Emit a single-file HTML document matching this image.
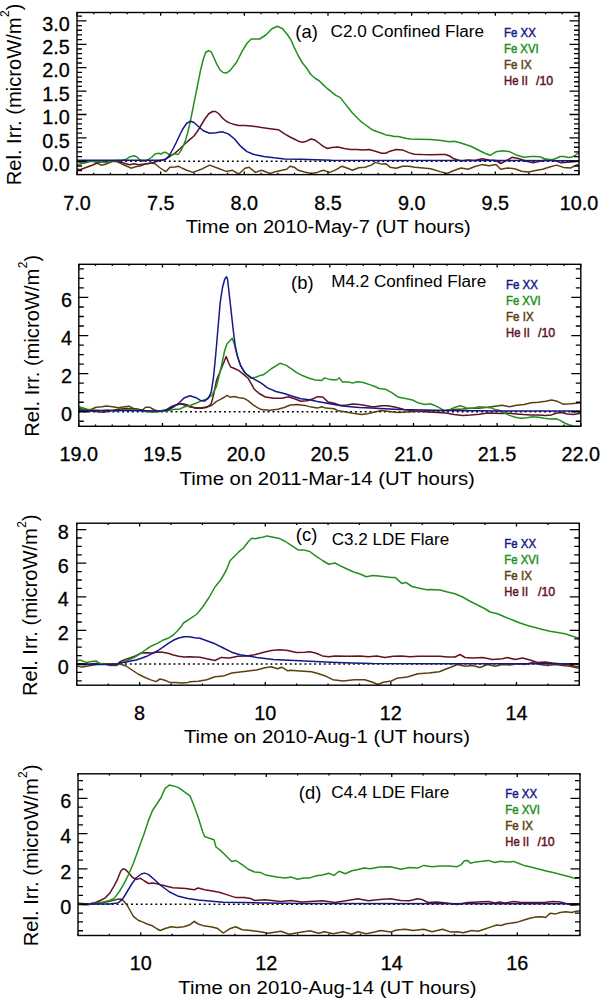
<!DOCTYPE html>
<html><head><meta charset="utf-8"><style>
html,body{margin:0;padding:0;background:#fff;}
svg{display:block;}
text{font-family:"Liberation Sans",sans-serif;fill:#000;}
.tl{font-size:19.8px;stroke:#000;stroke-width:0.3px;}
.xt{font-size:18.8px;}
.yt{font-size:19.8px;}
.ys{font-size:12px;}
.ti{font-size:16px;}
.tlb{font-size:19px;}
.lg{font-size:12.3px;stroke-width:0.45px;}
</style></head><body>
<svg width="600" height="1000" viewBox="0 0 600 1000">
<rect width="600" height="1000" fill="#fff"/>
<clipPath id="clipa"><rect x="77" y="12.5" width="502" height="162.1"/></clipPath>
<line x1="77" y1="161.3" x2="579" y2="161.3" stroke="#000" stroke-width="1.6" stroke-dasharray="1.9 2.95" stroke-dashoffset="0.3"/>
<g clip-path="url(#clipa)" fill="none" stroke-width="1.5" stroke-linejoin="round" stroke-linecap="round">
<polyline stroke="#5a400e" points="77,161.5 81.5,163 86,162.7 90.5,160.7 95,161.8 101,165.2 105.5,164.2 109.2,162.7 113,161.2 117.5,161.8 122,164.2 126.5,166 131,168.2 135.5,166.7 140,166 146,163.7 152,163 155,163.7 159.5,167.5 164,170.5 166,171.5 170,167.2 175,167 178.3,166.2 181,167.6 186.7,170.3 193,172.4 201.25,169.3 209.6,165.1 218,168.25 226.25,171.4 232.5,170.3 238.75,174 245,168.25 249.2,167.2 255.4,172.4 261.7,170.3 270,173.5 276.25,171.4 286.7,169.3 290,166.2 294.2,167.2 298.3,170.3 304.6,172 310.8,173.5 317,172.4 323.3,170.3 329.6,172.4 335.8,169.9 342,166.2 346.25,167.8 352.5,170.3 358.75,167.8 365,167.2 371.25,165.1 375.4,162.4 381.7,164.1 385.8,163.7 390,167.2 396.25,168.25 402.5,166.2 408.75,166.2 415,167.2 420.4,167.7 430.8,168.75 440,171.6 447,173.5 454,170.5 461,168 468,169.3 475,166.5 482,164.6 489,165.8 496,164.6 500.6,169.3 507.6,168 514.6,168.8 521.6,171.2 528.6,172.1 535.6,170.5 542.6,169.3 549.6,167 556.5,165.1 563.5,167.4 570.5,168 577.5,164.6"/>
<polyline stroke="#621322" points="77,169 80,169.7 86,167.5 92,165.2 98,162.7 104,161.2 111.5,160.7 117.5,161.2 123.5,163 129.5,164.8 134,163.7 138.5,164.8 143,164.2 147.5,163.7 152,163 156.5,161.5 160,160.5 165,159.4 170,156.25 175,153.1 180,148.75 185,143.75 190,139.4 193.75,136.25 197.5,131.25 201.25,125 205,118.75 208.75,113.75 212.5,111.5 215.6,111.5 218.75,113.75 222.5,118.1 226.25,121.25 230,123.1 232.5,123.9 238.75,125.5 245,125.5 253.3,126.2 261.7,127.6 270,128.7 278.3,129.7 284.6,133.9 290,137 294.2,139 298.3,141.2 302.5,142.2 306.7,141.2 310.8,139 315,140.1 319.2,143.25 323.3,146.4 327.5,148.5 331.7,147.4 337.9,147 344.2,148.5 350.4,149.5 356.7,149.5 362.9,149.9 369.2,149.5 375.4,151.2 381.7,153.25 385.8,153.25 390,151.2 396.25,149.5 402.5,149.9 408.75,152.6 414.2,154.2 422.5,154.6 430.8,154.8 440,154.4 445.4,154.5 449.6,156 454,158.8 461,161 468,160 475,160.5 482,158.8 489,160 496,160.5 500.6,163.5 507.6,160 512.3,157.2 519.3,158.8 526.2,161.2 533.2,162.8 540.2,161.2 547.2,159.5 554.2,160.5 561.2,162.8 570.5,161.9 578.7,161.2"/>
<polyline stroke="#229020" points="77,164.5 80,164.2 86,162.2 92,161.2 99.5,161.5 107,162.7 111.5,160.7 122,160.3 126.5,159.2 129.5,157 134,155.8 137,157 140,160 143,161.2 147.5,160 152,157 155,154 158.7,153.2 161,154 164,152.2 166.25,152.5 168.75,154.4 171.25,155 175,153.75 178.1,154.4 180.6,151.25 183.1,146.25 185.6,140 188.1,131.25 190.6,120 193.1,107.5 195.6,95 198.1,82.5 200.6,70 203.1,60 205.6,52.5 208.75,50.6 211.25,51.9 213.75,57.5 216.9,64.4 220,70 223.1,72.5 226.25,73.1 230,70.6 236.7,62 241.9,51.6 247,43.25 251.25,39 259.6,39 265.8,35 272,28.7 277.3,26.2 282.5,28.7 287.7,35 291,40 294.2,47.4 298.3,55.75 302.5,63 306.7,68.25 310.8,74.5 315,78.25 319.2,80.75 323.3,84.9 327.5,88.7 331.7,92.2 335.8,95.3 340,97.4 344.2,102.6 348.3,107.8 352.5,113 356.7,117.2 360.8,121.4 365,124.5 369.2,127.6 373.3,130.3 377.5,131.8 381.7,133.25 385.8,134.9 390,135.5 394.2,136.6 398.3,136.6 402.5,137.4 406.7,138.5 410.8,139 418.3,139.2 430.8,139.6 441.25,140.6 449.6,141.7 453.75,141.25 460,142.7 466.25,144.8 470.3,146 477.3,149.5 484.3,153 490,155.3 496,151.8 503,150.7 510,151.8 517,155.3 524,157.2 531,156.5 536,156.5 540,156.8 544,158.5 548,159.5 553,159.5 557,158 560,156.5 564,156.5 568,157.5 572,157 575,155.5 578,153 580,152"/>
<polyline stroke="#14188a" points="77,160.3 160,160.3 163,160 166,159 169,156 173,149 176.5,142 179.5,135.5 182.5,129.5 186.5,123.5 190.5,121.2 194,122.5 197,125.3 203.3,130.75 209.6,133.25 215.8,132.8 222,131.8 228.3,133.9 234.6,139 240.8,146.4 247,151.6 253.3,154.3 263.75,156.4 274,157.8 284.6,158.9 300,159.3 331.7,160.2 579,160.7"/>
</g>
<path d="M77 174.6v-3.2M77 12.5v3.2M93.73 174.6v-1.8M93.73 12.5v1.8M110.47 174.6v-1.8M110.47 12.5v1.8M127.2 174.6v-1.8M127.2 12.5v1.8M143.93 174.6v-1.8M143.93 12.5v1.8M160.67 174.6v-3.2M160.67 12.5v3.2M177.4 174.6v-1.8M177.4 12.5v1.8M194.13 174.6v-1.8M194.13 12.5v1.8M210.87 174.6v-1.8M210.87 12.5v1.8M227.6 174.6v-1.8M227.6 12.5v1.8M244.33 174.6v-3.2M244.33 12.5v3.2M261.07 174.6v-1.8M261.07 12.5v1.8M277.8 174.6v-1.8M277.8 12.5v1.8M294.53 174.6v-1.8M294.53 12.5v1.8M311.27 174.6v-1.8M311.27 12.5v1.8M328 174.6v-3.2M328 12.5v3.2M344.73 174.6v-1.8M344.73 12.5v1.8M361.47 174.6v-1.8M361.47 12.5v1.8M378.2 174.6v-1.8M378.2 12.5v1.8M394.93 174.6v-1.8M394.93 12.5v1.8M411.67 174.6v-3.2M411.67 12.5v3.2M428.4 174.6v-1.8M428.4 12.5v1.8M445.13 174.6v-1.8M445.13 12.5v1.8M461.87 174.6v-1.8M461.87 12.5v1.8M478.6 174.6v-1.8M478.6 12.5v1.8M495.33 174.6v-3.2M495.33 12.5v3.2M512.07 174.6v-1.8M512.07 12.5v1.8M528.8 174.6v-1.8M528.8 12.5v1.8M545.53 174.6v-1.8M545.53 12.5v1.8M562.27 174.6v-1.8M562.27 12.5v1.8M579 174.6v-3.2M579 12.5v3.2M77 170.66h5M579 170.66h-5M77 165.98h5M579 165.98h-5M77 161.3h9.5M579 161.3h-9.5M77 156.62h5M579 156.62h-5M77 151.94h5M579 151.94h-5M77 147.26h5M579 147.26h-5M77 142.58h5M579 142.58h-5M77 137.9h9.5M579 137.9h-9.5M77 133.22h5M579 133.22h-5M77 128.54h5M579 128.54h-5M77 123.86h5M579 123.86h-5M77 119.18h5M579 119.18h-5M77 114.5h9.5M579 114.5h-9.5M77 109.82h5M579 109.82h-5M77 105.14h5M579 105.14h-5M77 100.46h5M579 100.46h-5M77 95.78h5M579 95.78h-5M77 91.1h9.5M579 91.1h-9.5M77 86.42h5M579 86.42h-5M77 81.74h5M579 81.74h-5M77 77.06h5M579 77.06h-5M77 72.38h5M579 72.38h-5M77 67.7h9.5M579 67.7h-9.5M77 63.02h5M579 63.02h-5M77 58.34h5M579 58.34h-5M77 53.66h5M579 53.66h-5M77 48.98h5M579 48.98h-5M77 44.3h9.5M579 44.3h-9.5M77 39.62h5M579 39.62h-5M77 34.94h5M579 34.94h-5M77 30.26h5M579 30.26h-5M77 25.58h5M579 25.58h-5M77 20.9h9.5M579 20.9h-9.5M77 16.22h5M579 16.22h-5" stroke="#000" stroke-width="1.3" fill="none"/>
<rect x="77" y="12.5" width="502" height="162.1" fill="none" stroke="#000" stroke-width="1.4"/>
<text x="77" y="209.7" text-anchor="middle" class="tl">7.0</text>
<text x="160.67" y="209.7" text-anchor="middle" class="tl">7.5</text>
<text x="244.33" y="209.7" text-anchor="middle" class="tl">8.0</text>
<text x="328" y="209.7" text-anchor="middle" class="tl">8.5</text>
<text x="411.67" y="209.7" text-anchor="middle" class="tl">9.0</text>
<text x="495.33" y="209.7" text-anchor="middle" class="tl">9.5</text>
<text x="579" y="209.7" text-anchor="middle" class="tl">10.0</text>
<text x="69.8" y="170.9" text-anchor="end" class="tl">0.0</text>
<text x="69.8" y="147.5" text-anchor="end" class="tl">0.5</text>
<text x="69.8" y="124.1" text-anchor="end" class="tl">1.0</text>
<text x="69.8" y="100.7" text-anchor="end" class="tl">1.5</text>
<text x="69.8" y="77.3" text-anchor="end" class="tl">2.0</text>
<text x="69.8" y="53.9" text-anchor="end" class="tl">2.5</text>
<text x="69.8" y="30.5" text-anchor="end" class="tl">3.0</text>
<text x="185.8" y="233.3" class="xt" textLength="285" lengthAdjust="spacingAndGlyphs">Time on 2010-May-7 (UT hours)</text>
<g transform="translate(20.5,185.35) rotate(-90)"><text x="0" y="0" class="yt" textLength="168" lengthAdjust="spacingAndGlyphs">Rel. Irr. (microW/m</text><text x="168.4" y="-11.4" class="ys">2</text><text x="175.2" y="0" class="yt">)</text></g>
<text x="295.3" y="38.4" class="tlb" textLength="22.5" lengthAdjust="spacingAndGlyphs">(a)</text>
<text x="330.6" y="36.9" class="ti" textLength="153.5" lengthAdjust="spacingAndGlyphs">C2.0 Confined Flare</text>
<text x="504" y="36.8" class="lg" style="fill:#14188a;stroke:#14188a" textLength="31.8" lengthAdjust="spacingAndGlyphs">Fe XX</text>
<text x="504" y="53" class="lg" style="fill:#229020;stroke:#229020" textLength="34.6" lengthAdjust="spacingAndGlyphs">Fe XVI</text>
<text x="504" y="69" class="lg" style="fill:#5a400e;stroke:#5a400e" textLength="27.6" lengthAdjust="spacingAndGlyphs">Fe IX</text>
<text x="504" y="85.2" class="lg" style="fill:#621322;stroke:#621322" textLength="23.8" lengthAdjust="spacingAndGlyphs">He II</text>
<text x="536" y="85.2" class="lg" style="fill:#621322;stroke:#621322" textLength="17.2" lengthAdjust="spacingAndGlyphs">/10</text>
<clipPath id="clipb"><rect x="78.8" y="264.3" width="501.99999999999994" height="162.0"/></clipPath>
<line x1="78.8" y1="411.75" x2="580.8" y2="411.75" stroke="#000" stroke-width="1.6" stroke-dasharray="1.9 2.95" stroke-dashoffset="0.3"/>
<g clip-path="url(#clipb)" fill="none" stroke-width="1.5" stroke-linejoin="round" stroke-linecap="round">
<polyline stroke="#5a400e" points="78.8,408.5 84,409.2 90,410 96,407.3 102,406.7 106.5,406 112.5,406.7 118.5,407.7 123,407 129,406.2 133.5,408.5 138,409.2 142.5,410 145.5,407.3 150,407.3 154.5,410 159,411.2 163.5,410.7 169,409.2 175,405.5 181,403.7 185.5,405.5 190,407 196,407.7 202,407.7 207.5,406.7 212,405.2 216.5,401.4 221,399.2 224.7,397 227,395.4 230,397.2 234.5,396.6 239,397.7 243.5,398.2 248,400.7 252.5,404.4 257,407.4 261.25,409.6 269.6,410.2 277.9,409.2 284.2,407.5 290.4,405 296.7,404.6 305,405.4 311.25,407.1 317.5,408.1 321.7,406.7 325.8,408.1 334.2,408.75 338.3,410.8 344.6,411.7 352.9,413.3 361.25,414.4 367.5,413.75 373.75,412.3 381.25,410.4 389.6,411.5 397.9,412.5 406.25,412.1 416.7,411.5 427,410.8 437.5,410.8 445.8,410.4 454.2,409.4 462.5,409 470.8,408.3 479.2,408.3 487.5,407.3 495,406.2 502.2,405.2 509.5,406.7 516.7,405.2 524,404.5 531.2,402.75 538.5,402.3 545.7,401.3 551.5,400.1 557.3,401.3 563.1,404.2 570.4,403.8 576.2,403.3 581,402.75"/>
<polyline stroke="#621322" points="78.8,410 85.5,410.7 93,411.2 103.5,412.2 111,410.7 118.5,409.2 126,408.5 133.5,408.8 141,410 148.5,411.2 156,411.2 160,411.3 166,410 172,406.2 178,404.3 182.5,403.7 187,404.7 191.5,407 196,408.2 202,408.3 206,407.5 209,406 211.2,403.7 213.5,395.4 216.5,380.4 219.5,373 223.2,364 226.2,356.5 228.5,362.5 230.7,367 234.5,368.5 239,370.7 243.5,374.4 248,378.2 251,383.4 254,388.7 257,391.7 259.2,393.5 265.4,397 273.75,398.3 282,398.3 288.3,396.7 294.6,398.75 300.8,401.25 307,400.8 313.3,398.75 317.5,396.7 322.7,397 327.9,401.9 334.2,403.3 340.4,405.4 346.7,405 352.9,404 359.2,404.6 365.4,405.4 371.7,406.7 375,406.7 381.25,405.8 387.5,405.8 395.8,407.3 404.2,409.4 412.5,410.8 420.8,411.5 429.2,411.9 437.5,412.5 445.8,412.9 454.2,414.6 462.5,415.6 470.8,415 479.2,414.2 487.5,413.1 495,413.2 502.2,413.5 509.5,413.2 516.7,413.9 524,414.6 531.2,414.9 538.5,414.9 545.7,415.4 551.5,414.9 555.9,413.2 561.7,412.5 567.5,413.9 573.3,414.6 581,413.2"/>
<polyline stroke="#229020" points="78.8,406.7 82.5,407.7 87,409.2 93,410 100.5,410.7 108,410 115.5,411.2 123,410 130.5,409.2 138,410 145.5,411.5 153,412.2 160,411.5 167.5,410.7 175,409.2 179.5,409.2 184,407 190,405.5 196,403.2 200,401.4 206,399.2 212,395.4 216.5,386.4 219.5,374.4 222.5,361 224.7,350.5 227,343.7 230,340.7 232.2,338.2 234.5,344.5 236.7,353.5 239,361 242,368.5 246.5,374.4 251,378.2 255.5,377.2 260,375.6 263.3,374.8 271.7,368.5 280,363.3 286.25,365.4 292.5,369.6 296.7,372.7 302.9,375.8 309.2,378.3 315.4,380 321.7,380.4 324.8,377.9 330,379.6 336.25,380 339.4,377.9 342.5,382 348.75,382 352.9,383.1 357,381.7 363.3,382.5 369.6,384.6 375,386.5 379.2,388.5 385.4,389.2 391.7,392.7 397.9,396.9 404.2,398.3 412.5,400 418.75,403.1 425,404.6 430.2,403.75 435.4,405.8 439.6,407.9 444.8,410.8 450,409.4 455.2,407.3 460.4,405.8 466.7,407.9 472.9,408.3 479.2,406.7 485.4,407.3 491.7,407.9 495,409.6 499.3,410.3 503.7,412.5 509.5,415.4 515.3,417.2 521,418.3 526.9,417.8 532.7,416.8 538.5,417.2 544.3,418.3 550.1,419 555.9,418.7 560.2,420.4 564.6,423 568.9,424.8 573.3,425.9 581,426.5"/>
<polyline stroke="#14188a" points="78.8,410.4 120,410.4 160,411 167.5,410 173.5,407 179.5,402.5 184,398 190,395.7 196,397.7 200.5,400.4 204.5,401.1 208.2,398.4 211.2,392.4 213.5,377.4 215.7,355 218,328 220.2,302.5 222.5,287.5 224.7,279.2 226.5,276.8 227.5,279 228.5,287.5 230.7,307 233,328 235.2,346 237.5,356.5 240.5,365.4 245,373 251,377.4 255,379.6 261.25,383.1 267.5,387.9 275.8,391.5 284.2,393.5 292.5,396.25 300.8,398.75 309.2,399.8 317.5,401.5 325.8,402.9 334.2,404.6 342.5,406 350.8,406.7 359.2,407.5 371.7,408.1 380,408.6 400,409.5 450,410.5 500,411 581,411"/>
</g>
<path d="M78.8 426.3v-3.2M78.8 264.3v3.2M95.53 426.3v-1.8M95.53 264.3v1.8M112.27 426.3v-1.8M112.27 264.3v1.8M129 426.3v-1.8M129 264.3v1.8M145.73 426.3v-1.8M145.73 264.3v1.8M162.47 426.3v-3.2M162.47 264.3v3.2M179.2 426.3v-1.8M179.2 264.3v1.8M195.93 426.3v-1.8M195.93 264.3v1.8M212.67 426.3v-1.8M212.67 264.3v1.8M229.4 426.3v-1.8M229.4 264.3v1.8M246.13 426.3v-3.2M246.13 264.3v3.2M262.87 426.3v-1.8M262.87 264.3v1.8M279.6 426.3v-1.8M279.6 264.3v1.8M296.33 426.3v-1.8M296.33 264.3v1.8M313.07 426.3v-1.8M313.07 264.3v1.8M329.8 426.3v-3.2M329.8 264.3v3.2M346.53 426.3v-1.8M346.53 264.3v1.8M363.27 426.3v-1.8M363.27 264.3v1.8M380 426.3v-1.8M380 264.3v1.8M396.73 426.3v-1.8M396.73 264.3v1.8M413.47 426.3v-3.2M413.47 264.3v3.2M430.2 426.3v-1.8M430.2 264.3v1.8M446.93 426.3v-1.8M446.93 264.3v1.8M463.67 426.3v-1.8M463.67 264.3v1.8M480.4 426.3v-1.8M480.4 264.3v1.8M497.13 426.3v-3.2M497.13 264.3v3.2M513.87 426.3v-1.8M513.87 264.3v1.8M530.6 426.3v-1.8M530.6 264.3v1.8M547.33 426.3v-1.8M547.33 264.3v1.8M564.07 426.3v-1.8M564.07 264.3v1.8M580.8 426.3v-3.2M580.8 264.3v3.2M78.8 421.27h5M580.8 421.27h-5M78.8 411.75h9.5M580.8 411.75h-9.5M78.8 402.23h5M580.8 402.23h-5M78.8 392.7h5M580.8 392.7h-5M78.8 383.18h5M580.8 383.18h-5M78.8 373.65h9.5M580.8 373.65h-9.5M78.8 364.12h5M580.8 364.12h-5M78.8 354.6h5M580.8 354.6h-5M78.8 345.07h5M580.8 345.07h-5M78.8 335.55h9.5M580.8 335.55h-9.5M78.8 326.02h5M580.8 326.02h-5M78.8 316.5h5M580.8 316.5h-5M78.8 306.98h5M580.8 306.98h-5M78.8 297.45h9.5M580.8 297.45h-9.5M78.8 287.93h5M580.8 287.93h-5M78.8 278.4h5M580.8 278.4h-5M78.8 268.88h5M580.8 268.88h-5" stroke="#000" stroke-width="1.3" fill="none"/>
<rect x="78.8" y="264.3" width="501.99999999999994" height="162.0" fill="none" stroke="#000" stroke-width="1.4"/>
<text x="78.8" y="460.5" text-anchor="middle" class="tl">19.0</text>
<text x="162.47" y="460.5" text-anchor="middle" class="tl">19.5</text>
<text x="246.13" y="460.5" text-anchor="middle" class="tl">20.0</text>
<text x="329.8" y="460.5" text-anchor="middle" class="tl">20.5</text>
<text x="413.47" y="460.5" text-anchor="middle" class="tl">21.0</text>
<text x="497.13" y="460.5" text-anchor="middle" class="tl">21.5</text>
<text x="580.8" y="460.5" text-anchor="middle" class="tl">22.0</text>
<text x="72.1" y="421.35" text-anchor="end" class="tl">0</text>
<text x="72.1" y="383.25" text-anchor="end" class="tl">2</text>
<text x="72.1" y="345.15" text-anchor="end" class="tl">4</text>
<text x="72.1" y="307.05" text-anchor="end" class="tl">6</text>
<text x="179.6" y="484.7" class="xt" textLength="295.3" lengthAdjust="spacingAndGlyphs">Time on 2011-Mar-14 (UT hours)</text>
<g transform="translate(38.6,436.70000000000005) rotate(-90)"><text x="0" y="0" class="yt" textLength="168" lengthAdjust="spacingAndGlyphs">Rel. Irr. (microW/m</text><text x="168.4" y="-11.4" class="ys">2</text><text x="175.2" y="0" class="yt">)</text></g>
<text x="291.1" y="288.5" class="tlb" textLength="22.5" lengthAdjust="spacingAndGlyphs">(b)</text>
<text x="331.2" y="287.3" class="ti" textLength="155" lengthAdjust="spacingAndGlyphs">M4.2 Confined Flare</text>
<text x="506" y="288.5" class="lg" style="fill:#14188a;stroke:#14188a" textLength="31.8" lengthAdjust="spacingAndGlyphs">Fe XX</text>
<text x="506" y="304.5" class="lg" style="fill:#229020;stroke:#229020" textLength="34.6" lengthAdjust="spacingAndGlyphs">Fe XVI</text>
<text x="506" y="321" class="lg" style="fill:#5a400e;stroke:#5a400e" textLength="27.6" lengthAdjust="spacingAndGlyphs">Fe IX</text>
<text x="506" y="337" class="lg" style="fill:#621322;stroke:#621322" textLength="23.8" lengthAdjust="spacingAndGlyphs">He II</text>
<text x="538" y="337" class="lg" style="fill:#621322;stroke:#621322" textLength="17.2" lengthAdjust="spacingAndGlyphs">/10</text>
<clipPath id="clipc"><rect x="76.8" y="523.2" width="502.49999999999994" height="162.0"/></clipPath>
<line x1="76.8" y1="664" x2="579.3" y2="664" stroke="#000" stroke-width="1.6" stroke-dasharray="1.9 2.95" stroke-dashoffset="0.3"/>
<g clip-path="url(#clipc)" fill="none" stroke-width="1.5" stroke-linejoin="round" stroke-linecap="round">
<polyline stroke="#5a400e" points="76.8,666 82,667 88,666 96,664.4 104,663.6 110,665.6 116,665.6 120,664 126,666 132,670 138,674 144,677 150,679.6 156,681.6 160,679 164,680 170,682.4 176,682.4 182,683 188,682.4 190,681.75 198.3,681.3 206.7,679.7 215,676.75 223.3,676.1 231.7,673 240,672 248.3,670.9 256.7,669.9 265,667.8 271.25,666.75 277.5,668.8 281.7,667.2 287.9,670.9 290,670.3 300,671 311.3,671.7 318,673.5 324.7,675.7 332.7,679.7 343.3,681 354,679.7 364.7,679.7 372.7,682.3 378,684.5 383.3,682.3 391.3,681 396.7,678.3 407.3,677 418,673.8 428.7,673 439.3,671.7 447.3,668.5 450,667.5 457.5,664.5 465,666.25 472.5,665.5 480,667.5 487.5,664.5 495,666.25 502.5,664.5 510,665 517.5,663.75 525,664.5 532.5,662.5 540,664.5 547.5,665.5 555,664.5 562.5,665.5 570,666.25 577.5,668 580,668.5"/>
<polyline stroke="#621322" points="76.8,663.6 84,664.4 96,663.6 108,664 118,663.6 120,661.7 125.3,659.4 130.7,657.7 136,655.7 141.3,653 146.7,652.7 152,653 157.3,652 162.7,652.3 168,653.3 173.3,655 178.7,656.3 184,657 189.3,656.7 194.7,657 200,657.3 206.7,658.8 215,660.5 221.25,657.4 229.6,658 237.9,656.3 246.25,655.9 254.6,654.7 262.9,652.6 271.25,650.5 279.6,649.7 287.9,650.5 296.25,652.6 304.6,652.2 310,651.75 316.25,653.2 322.5,655.9 328.75,656.75 335,655.9 347.5,656.3 360,655.9 368.3,656.75 376.7,655.9 385,657.4 393.3,656.3 401.7,655.9 410,656.75 418.3,656.3 430,656.25 440,656.25 447.5,657 455,657 460,654.5 465,657.5 472.5,658 482.5,657.5 492.5,659.5 502.5,658.75 507.5,657.5 515,659.5 522.5,658 530,660 537.5,662.5 545,662 552.5,663 560,663.75 567.5,664.5 575,666.25 580,666.5"/>
<polyline stroke="#229020" points="76.8,661 80,660 86,662.4 92,661.6 96,661 100,663.6 108,664.4 116,664.4 120,663.7 125.3,661 130.7,659 136,656.3 141.3,653 146.7,649 152,645.7 157.3,643.4 162.7,640.3 168,638.3 173.3,635 177.3,631 181.3,626.3 183.5,623 189.5,619.2 197,614 203,606.5 209,597.5 215,587 221,579.5 226.2,570.5 230,560.7 234.5,556.2 239,551.7 243.5,548 248,542 251.7,538.25 255.5,538.7 260,537.5 262.9,537.2 267,535.9 273.3,537.2 279.6,538.6 285.8,541.75 292,545.9 298.3,550.1 304.6,550.1 309.8,551.5 316.25,556.3 322.5,560.5 328.75,564.25 335,563 341.25,566.3 347.5,569.25 353.75,572 360,574 366.25,576.75 372.5,575.5 378.75,576.1 385,576.75 391.25,577.6 395.4,577.6 401.7,583.4 405.8,582.4 412,586.5 418.3,588 426.7,589.7 430,589.5 440,590 447.5,592 455,593.75 462.5,597 470,601.25 477.5,605 485,608.75 490,612 497.5,613.75 505,617 512.5,620 520,623 527.5,625.5 535,627.5 542.5,629.5 550,631.25 557.5,632.5 565,633.75 572.5,636.25 580,638.5"/>
<polyline stroke="#14188a" points="76.8,664.4 116,664.4 120,663 125.3,662.3 130.7,661 136,660 141.3,658.3 146.7,656.3 152,653.7 157.3,651 162.7,647.4 168,643.7 173.3,640.3 178.7,638 184,636.7 189.3,636.7 194.7,637.7 200,638.3 206.7,640.7 215,643.8 223.3,648 231.7,652.2 240,654.7 248.3,655.9 256.7,657.4 265,658.4 273.3,659.5 283.75,660.1 294.2,660.5 304.6,661.1 315,661.5 330.8,662.2 351.7,663 372.5,663.6 435,663.8 580,663.8"/>
</g>
<path d="M76.8 685.2v-1.8M76.8 523.2v1.8M108.21 685.2v-1.8M108.21 523.2v1.8M139.61 685.2v-3.2M139.61 523.2v3.2M171.02 685.2v-1.8M171.02 523.2v1.8M202.42 685.2v-1.8M202.42 523.2v1.8M233.83 685.2v-1.8M233.83 523.2v1.8M265.24 685.2v-3.2M265.24 523.2v3.2M296.64 685.2v-1.8M296.64 523.2v1.8M328.05 685.2v-1.8M328.05 523.2v1.8M359.46 685.2v-1.8M359.46 523.2v1.8M390.86 685.2v-3.2M390.86 523.2v3.2M422.27 685.2v-1.8M422.27 523.2v1.8M453.67 685.2v-1.8M453.67 523.2v1.8M485.08 685.2v-1.8M485.08 523.2v1.8M516.49 685.2v-3.2M516.49 523.2v3.2M547.89 685.2v-1.8M547.89 523.2v1.8M579.3 685.2v-1.8M579.3 523.2v1.8M76.8 680.8h5M579.3 680.8h-5M76.8 672.4h5M579.3 672.4h-5M76.8 664h9.5M579.3 664h-9.5M76.8 655.6h5M579.3 655.6h-5M76.8 647.2h5M579.3 647.2h-5M76.8 638.8h5M579.3 638.8h-5M76.8 630.4h9.5M579.3 630.4h-9.5M76.8 622h5M579.3 622h-5M76.8 613.6h5M579.3 613.6h-5M76.8 605.2h5M579.3 605.2h-5M76.8 596.8h9.5M579.3 596.8h-9.5M76.8 588.4h5M579.3 588.4h-5M76.8 580h5M579.3 580h-5M76.8 571.6h5M579.3 571.6h-5M76.8 563.2h9.5M579.3 563.2h-9.5M76.8 554.8h5M579.3 554.8h-5M76.8 546.4h5M579.3 546.4h-5M76.8 538h5M579.3 538h-5M76.8 529.6h9.5M579.3 529.6h-9.5" stroke="#000" stroke-width="1.3" fill="none"/>
<rect x="76.8" y="523.2" width="502.49999999999994" height="162.0" fill="none" stroke="#000" stroke-width="1.4"/>
<text x="139.61" y="720" text-anchor="middle" class="tl">8</text>
<text x="265.24" y="720" text-anchor="middle" class="tl">10</text>
<text x="390.86" y="720" text-anchor="middle" class="tl">12</text>
<text x="516.49" y="720" text-anchor="middle" class="tl">14</text>
<text x="68.8" y="673.6" text-anchor="end" class="tl">0</text>
<text x="68.8" y="640" text-anchor="end" class="tl">2</text>
<text x="68.8" y="606.4" text-anchor="end" class="tl">4</text>
<text x="68.8" y="572.8" text-anchor="end" class="tl">6</text>
<text x="68.8" y="539.2" text-anchor="end" class="tl">8</text>
<text x="183.9" y="742.7" class="xt" textLength="286" lengthAdjust="spacingAndGlyphs">Time on 2010-Aug-1 (UT hours)</text>
<g transform="translate(36.9,696.1) rotate(-90)"><text x="0" y="0" class="yt" textLength="168" lengthAdjust="spacingAndGlyphs">Rel. Irr. (microW/m</text><text x="168.4" y="-11.4" class="ys">2</text><text x="175.2" y="0" class="yt">)</text></g>
<text x="295.8" y="541.4" class="tlb" textLength="21.5" lengthAdjust="spacingAndGlyphs">(c)</text>
<text x="331.7" y="545.4" class="ti" textLength="117.5" lengthAdjust="spacingAndGlyphs">C3.2 LDE Flare</text>
<text x="504.3" y="547.5" class="lg" style="fill:#14188a;stroke:#14188a" textLength="31.8" lengthAdjust="spacingAndGlyphs">Fe XX</text>
<text x="504.3" y="563.5" class="lg" style="fill:#229020;stroke:#229020" textLength="34.6" lengthAdjust="spacingAndGlyphs">Fe XVI</text>
<text x="504.3" y="579.8" class="lg" style="fill:#5a400e;stroke:#5a400e" textLength="27.6" lengthAdjust="spacingAndGlyphs">Fe IX</text>
<text x="504.3" y="596.2" class="lg" style="fill:#621322;stroke:#621322" textLength="23.8" lengthAdjust="spacingAndGlyphs">He II</text>
<text x="538" y="596.2" class="lg" style="fill:#621322;stroke:#621322" textLength="17.2" lengthAdjust="spacingAndGlyphs">/10</text>
<clipPath id="clipd"><rect x="78" y="773.8" width="502" height="161.70000000000005"/></clipPath>
<line x1="78" y1="904.25" x2="580" y2="904.25" stroke="#000" stroke-width="1.6" stroke-dasharray="1.9 2.95" stroke-dashoffset="0.3"/>
<g clip-path="url(#clipd)" fill="none" stroke-width="1.5" stroke-linejoin="round" stroke-linecap="round">
<polyline stroke="#5a400e" points="78,904.4 87.5,904.7 97,903.6 106.5,902 112.8,900.5 117.6,899.35 120.7,898.9 123.9,901.25 127.1,905.2 130.25,910.75 133.4,916.3 138.2,920.25 142.9,922.1 147.7,924.2 152.4,925.8 157.2,929 160.3,930.5 165.1,928.5 171.25,926.75 177.5,927.6 183.75,926.75 190,924.7 194.2,921.3 198.3,924 204.6,926.1 210.8,926.75 217.1,928.2 223.3,933 229.6,928.8 235.8,926.75 242.1,929.7 248.3,930.3 254.6,930.9 260,931.7 268.3,933.3 280.8,931.25 289.2,934.2 297.5,932.7 310,930.8 318.3,933.3 324.6,931.7 333,933.75 343.3,931.7 351.7,934.2 357.9,931.7 366.25,933.75 374.6,932.1 380.8,930.6 390.4,932.1 396.7,930 405,929.2 413.3,930.6 423.75,929.2 432.1,931.7 442.5,929.2 450.8,932.1 457.1,931.7 463.3,932.7 471.7,930.6 477.9,931.25 484.2,929.2 490.4,927.1 496.7,925 500.8,925.5 506.6,923.8 512.4,922.9 518.2,921.9 524,920 529.8,918.3 535.6,917.1 541.4,916.8 545.7,917.5 550.1,913.2 555.9,913.9 560.2,912.5 566,911.7 571.8,912.5 576.2,911.3 580,911"/>
<polyline stroke="#621322" points="78,904.1 84.3,904.4 90.7,903.6 95.4,902.5 100.2,900.5 104.9,898.1 109.7,893.3 114.4,885.4 117.6,879.1 120.7,871.2 123.1,868.8 125.5,869.6 128.7,872.75 132.6,877.5 136.6,879.4 140.5,878.3 144.5,881 148.5,883.5 152.4,883 157.2,883.8 161.9,885.1 166.7,886.2 173,887.8 177.5,888 185.8,888.6 194.2,889.7 198.3,888 204.6,889.7 210.8,890.7 219.2,892.2 227.5,894.9 235.8,897.6 244.2,897.6 250.4,898.4 254.6,900.5 265,899.7 280.8,901.5 291.25,900.4 301.7,902.1 322.5,900.8 335,902.5 347.5,900.4 357.9,898.75 368.3,900.8 380,899.4 390.4,898.75 400.8,900.4 409.2,900.8 417.5,898.75 421.7,899.4 427.9,902.5 436.25,902.1 446.7,902.9 457.1,904.6 467.5,902.5 477.9,902.1 488.3,901.5 495,903 499.3,902 505.1,903 513.8,901.6 521.1,902.6 528.3,902.6 537,902.6 545.7,902.3 553,901.6 560.2,902 566,903.5 571.8,905.2 576.2,904.9 580,904.5"/>
<polyline stroke="#229020" points="78,903.1 87.5,904.1 97,903.1 103.3,902 109.7,900.5 114.4,898.1 119.2,891.75 123.9,883.8 128.7,874.3 133.4,863.25 137.4,852.2 140,845 144.2,833.4 148.3,820.9 152.5,810.5 156.7,804.25 160.8,798 165,788.6 169.2,785.1 173.3,785.9 178.5,787.6 183.75,791.3 190,795.9 194.2,806.3 198.3,817.8 202.5,831.3 204.6,836.5 208.75,838 214,839.7 216,847 220.2,850.1 225.4,855.3 231.7,861.5 235.8,860.5 242.1,864.7 248.3,869.25 254.6,872 260.8,872.6 265,874.7 268.3,875.4 276.7,877.1 285,877.9 291.25,877.1 297.5,879.2 303.75,877.9 310,877.9 316.25,875.8 322.5,875 328.75,873.3 334,875.4 339.2,871.25 345.4,873.75 351.7,870.8 357.9,869.6 364.2,868.1 370.4,868.75 376.7,867.5 380,867.1 390.4,866.7 400.8,869.2 409.2,867.5 417.5,868.1 423.75,865.4 432.1,866.7 440.4,866 448.75,866 457.1,866.7 461.25,864.6 464.4,860.8 467.5,860.4 470.6,863.3 475.8,861.9 482.1,861.25 488.3,860.4 494.6,862.5 500.8,861.2 506.6,862 513.8,861.4 518.2,863.2 524,865.4 529.8,866.8 535.6,868.3 541.4,869.7 547.2,871.2 553,872.6 558.8,874 564.6,875.5 570.4,877 574.7,878.4 580,877.7"/>
<polyline stroke="#14188a" points="78,904.1 109.7,904.1 117.6,903.1 122.3,899.7 127.1,891.75 131.8,883.8 136.6,877.5 141.3,874 144.5,873.1 148.3,874.4 154.3,879.5 160.8,885.5 169.2,891.75 177.5,895.9 187.9,898.6 198.3,900.1 208.75,901.1 223.3,902.2 244.2,902.6 265,903 300,903.5 580,903.8"/>
</g>
<path d="M78 935.5v-1.8M78 773.8v1.8M109.38 935.5v-1.8M109.38 773.8v1.8M140.75 935.5v-3.2M140.75 773.8v3.2M172.12 935.5v-1.8M172.12 773.8v1.8M203.5 935.5v-1.8M203.5 773.8v1.8M234.88 935.5v-1.8M234.88 773.8v1.8M266.25 935.5v-3.2M266.25 773.8v3.2M297.62 935.5v-1.8M297.62 773.8v1.8M329 935.5v-1.8M329 773.8v1.8M360.38 935.5v-1.8M360.38 773.8v1.8M391.75 935.5v-3.2M391.75 773.8v3.2M423.12 935.5v-1.8M423.12 773.8v1.8M454.5 935.5v-1.8M454.5 773.8v1.8M485.88 935.5v-1.8M485.88 773.8v1.8M517.25 935.5v-3.2M517.25 773.8v3.2M548.62 935.5v-1.8M548.62 773.8v1.8M580 935.5v-1.8M580 773.8v1.8M78 930.73h5M580 930.73h-5M78 921.9h5M580 921.9h-5M78 913.08h5M580 913.08h-5M78 904.25h9.5M580 904.25h-9.5M78 895.42h5M580 895.42h-5M78 886.6h5M580 886.6h-5M78 877.77h5M580 877.77h-5M78 868.95h9.5M580 868.95h-9.5M78 860.12h5M580 860.12h-5M78 851.3h5M580 851.3h-5M78 842.48h5M580 842.48h-5M78 833.65h9.5M580 833.65h-9.5M78 824.83h5M580 824.83h-5M78 816h5M580 816h-5M78 807.17h5M580 807.17h-5M78 798.35h9.5M580 798.35h-9.5M78 789.52h5M580 789.52h-5M78 780.7h5M580 780.7h-5" stroke="#000" stroke-width="1.3" fill="none"/>
<rect x="78" y="773.8" width="502" height="161.70000000000005" fill="none" stroke="#000" stroke-width="1.4"/>
<text x="140.75" y="970" text-anchor="middle" class="tl">10</text>
<text x="266.25" y="970" text-anchor="middle" class="tl">12</text>
<text x="391.75" y="970" text-anchor="middle" class="tl">14</text>
<text x="517.25" y="970" text-anchor="middle" class="tl">16</text>
<text x="71.3" y="913.85" text-anchor="end" class="tl">0</text>
<text x="71.3" y="878.55" text-anchor="end" class="tl">2</text>
<text x="71.3" y="843.25" text-anchor="end" class="tl">4</text>
<text x="71.3" y="807.95" text-anchor="end" class="tl">6</text>
<text x="178.3" y="994.3" class="xt" textLength="298.2" lengthAdjust="spacingAndGlyphs">Time on 2010-Aug-14 (UT hours)</text>
<g transform="translate(37.9,946.3000000000001) rotate(-90)"><text x="0" y="0" class="yt" textLength="168" lengthAdjust="spacingAndGlyphs">Rel. Irr. (microW/m</text><text x="168.4" y="-11.4" class="ys">2</text><text x="175.2" y="0" class="yt">)</text></g>
<text x="298.8" y="798.5" class="tlb" textLength="22.5" lengthAdjust="spacingAndGlyphs">(d)</text>
<text x="331.2" y="797.5" class="ti" textLength="118" lengthAdjust="spacingAndGlyphs">C4.4 LDE Flare</text>
<text x="505.3" y="797.8" class="lg" style="fill:#14188a;stroke:#14188a" textLength="31.8" lengthAdjust="spacingAndGlyphs">Fe XX</text>
<text x="505.3" y="813.8" class="lg" style="fill:#229020;stroke:#229020" textLength="34.6" lengthAdjust="spacingAndGlyphs">Fe XVI</text>
<text x="505.3" y="830" class="lg" style="fill:#5a400e;stroke:#5a400e" textLength="27.6" lengthAdjust="spacingAndGlyphs">Fe IX</text>
<text x="505.3" y="846.2" class="lg" style="fill:#621322;stroke:#621322" textLength="23.8" lengthAdjust="spacingAndGlyphs">He II</text>
<text x="537.5" y="846.2" class="lg" style="fill:#621322;stroke:#621322" textLength="17.2" lengthAdjust="spacingAndGlyphs">/10</text>
</svg>
</body></html>
